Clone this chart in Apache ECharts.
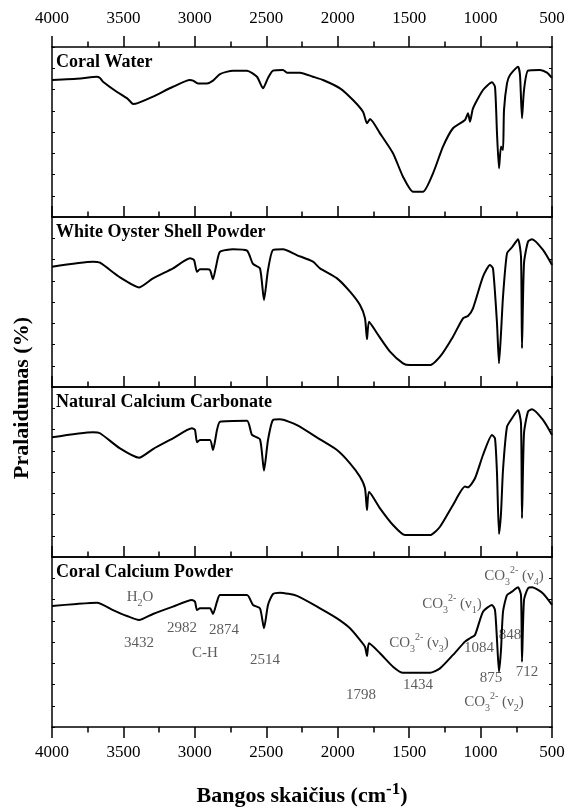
<!DOCTYPE html>
<html><head><meta charset="utf-8">
<script src="https://cdn.jsdelivr.net/npm/echarts@6/dist/echarts.min.js"></script>
<style>html,body{margin:0;padding:0;background:#fff}#c{width:568px;height:809px}</style>
</head><body><div id="c"></div>
<script>
// ---- data ----
const xMin = 500, xMax = 4000, xStep = 500;
const panelTitles = ['Coral Water', 'White Oyster Shell Powder', 'Natural Calcium Carbonate', 'Coral Calcium Powder'];

const coralWater = [[4000,80.6],[3800,81.5],[3687,82.5],[3664,81.8],[3643,79.6],[3547,73.7],[3470,69.5],[3432,66.5],[3400,67.0],[3293,70.8],[3153,76.6],[3034,80.6],[3013,80.2],[2978,78.6],[2915,78.6],[2873,80.2],[2824,84.1],[2733,86.1],[2635,86.1],[2565,82.5],[2523,75.7],[2488,81.8],[2453,86.1],[2383,86.5],[2355,84.9],[2264,84.9],[2173,82.5],[2103,80.6],[1984,75.7],[1893,68.8],[1823,61.9],[1795,55.1],[1774,57.6],[1704,49.2],[1613,37.5],[1543,23.7],[1473,14.9],[1403,14.9],[1333,25.7],[1263,41.4],[1193,52.2],[1109,57.1],[1088,61.0],[1074,56.1],[1053,63.9],[983,74.7],[920,79.2],[899,76.6],[885,49.2],[871,28.6],[857,41.4],[843,39.4],[836,62.9],[815,78.6],[794,83.5],[738,88.4],[724,83.5],[710,58.1],[696,74.7],[668,86.1],[584,86.5],[535,84.9],[500,81.8]];

const whiteOyster = [[4000,70.8],[3713,73.7],[3664,73.1],[3524,64.5],[3390,58.6],[3293,63.9],[3153,69.8],[3034,75.7],[3006,74.7],[2985,67.8],[2964,69.2],[2915,69.2],[2894,68.8],[2873,63.4],[2852,70.8],[2824,79.6],[2733,81.0],[2635,80.2],[2593,72.4],[2544,69.8],[2516,51.2],[2488,68.8],[2453,80.6],[2383,81.0],[2287,77.6],[2173,73.7],[2124,69.8],[2005,63.9],[1914,56.1],[1844,48.2],[1809,40.4],[1795,28.1],[1781,38.4],[1725,31.6],[1634,20.8],[1543,13.9],[1494,12.9],[1354,12.9],[1284,17.8],[1193,29.6],[1123,40.4],[1088,41.8],[1053,46.3],[983,64.9],[934,71.8],[913,69.8],[885,37.5],[871,13.9],[857,31.6],[843,53.1],[815,78.6],[780,82.2],[738,86.9],[717,76.6],[710,22.8],[696,72.8],[668,85.5],[640,86.9],[563,80.6],[500,71.8]];

const naturalCaCO3 = [[4000,70.4],[3713,73.4],[3664,72.8],[3524,63.9],[3390,58.4],[3293,63.5],[3153,69.8],[3020,75.7],[2999,74.7],[2985,67.5],[2964,68.8],[2894,68.8],[2873,62.9],[2845,74.7],[2824,79.6],[2635,80.2],[2600,71.8],[2544,69.2],[2516,50.8],[2488,68.8],[2453,80.6],[2404,81.0],[2285,77.6],[2124,69.2],[2005,62.9],[1914,55.1],[1844,47.2],[1809,40.4],[1795,27.6],[1781,38.4],[1704,28.6],[1613,18.8],[1529,12.9],[1354,12.9],[1284,17.8],[1193,30.6],[1109,41.4],[1088,41.0],[1039,46.3],[983,60.0],[920,71.8],[899,69.8],[885,49.2],[871,13.5],[857,25.7],[843,51.2],[815,76.6],[780,81.6],[738,86.5],[717,78.6],[710,22.8],[696,72.8],[668,85.5],[640,86.9],[563,80.6],[500,71.8]];

const coralCalcium = [[4000,71.2],[3825,72.4],[3685,73.1],[3573,68.8],[3475,65.3],[3391,62.9],[3293,66.5],[3153,70.8],[3020,74.7],[2999,73.7],[2985,68.8],[2964,69.8],[2894,69.8],[2873,66.5],[2845,73.7],[2824,77.6],[2635,77.6],[2593,71.8],[2544,69.8],[2516,58.1],[2488,71.8],[2453,78.2],[2404,79.0],[2285,77.1],[2124,69.8],[2005,63.9],[1914,58.1],[1844,51.2],[1809,47.2],[1795,41.8],[1781,49.2],[1704,43.4],[1613,35.5],[1543,31.9],[1354,31.9],[1284,34.5],[1193,42.4],[1109,50.2],[1074,52.2],[1039,54.1],[983,67.8],[920,71.8],[899,68.8],[885,51.2],[871,32.5],[857,45.3],[843,67.8],[815,77.6],[780,79.6],[738,82.2],[717,77.6],[710,38.4],[696,74.7],[668,81.6],[640,82.2],[563,78.6],[500,71.8]];

const annText = ['H_2O','3432','2982','2874','C-H','2514','1798','1434','CO_3^2- (ν_3)','1084','CO_3^2- (ν_1)','848','875','712','CO_3^2- (ν_4)','CO_3^2- (ν_2)'];
const annWn = [3384,3391,3090,2796,2929,2509,1837,1438,1431,1011,1200,794,927,675,766,906];
const annT = [76.5,49.4,58.2,57.1,43.5,39.4,18.8,24.7,49.4,46.5,72.4,54.1,28.8,32.4,88.8,14.7];

const yLabel = 'Pralaidumas (%)';
const xLabel = 'Bangos skaičius (cm{sup|-1})';

// ---- layout ----
const FONT = '"Liberation Serif", "Times New Roman", serif';
const L = 52, R = 16, TOP = 47, H = 170;
const panels = [coralWater, whiteOyster, naturalCaCO3, coralCalcium];
const tickFmt = v => String(v);

const grids = [], xAxes = [], yAxes = [], series = [], titles = [];
panels.forEach((d, i) => {
  grids.push({left: L, right: R, top: TOP + H * i, height: H, outerBoundsMode: 'none', containLabel: false});
  const last = i === panels.length - 1;
  const base = {type: 'value', gridIndex: i, min: xMin, max: xMax, interval: xStep, inverse: true,
    axisLine: {show: true, onZero: false, lineStyle: {color: '#000', width: 1.5}},
    splitLine: {show: false}, minorSplitLine: {show: false}};
  xAxes.push(Object.assign({}, base, {position: 'top',
    axisTick: {show: true, inside: false, length: 11, lineStyle: {color: '#000', width: 1.5}},
    minorTick: {show: true, splitNumber: 2, length: 5.5, lineStyle: {color: '#000', width: 1.5}},
    axisLabel: {show: i === 0, margin: 20, formatter: tickFmt, fontFamily: FONT, fontSize: 17, color: '#000'}}));
  xAxes.push(Object.assign({}, base, {position: 'bottom',
    axisTick: {show: last, inside: false, length: 11, lineStyle: {color: '#000', width: 1.5}},
    minorTick: {show: last, splitNumber: 2, length: 5.5, lineStyle: {color: '#000', width: 1.5}},
    axisLabel: {show: last, margin: 17, formatter: tickFmt, fontFamily: FONT, fontSize: 17, color: '#000'},
    name: last ? xLabel : '', nameLocation: 'middle', nameGap: 54, nameMoveOverlap: false,
    nameTextStyle: {fontFamily: FONT, fontSize: 22, fontWeight: 'bold', color: '#000', lineHeight: 30,
      rich: {sup: {fontFamily: FONT, fontSize: 17, fontWeight: 'bold', verticalAlign: 'top', lineHeight: 14, color: '#000'}}}}));
  ['left', 'right'].forEach(pos => yAxes.push({type: 'value', gridIndex: i, position: pos, min: 0, max: 100, interval: 12.5,
    axisLine: {show: true, lineStyle: {color: '#000', width: 1.5}},
    axisTick: {show: true, inside: true, length: 3, lineStyle: {color: '#000', width: 1}},
    axisLabel: {show: false}, splitLine: {show: false}}));
  series.push({type: 'line', xAxisIndex: 2 * i, yAxisIndex: 2 * i, data: d, symbol: 'none',
    smooth: 0.2, lineStyle: {color: '#000', width: 2}, z: 3});
  titles.push({text: panelTitles[i], left: L + 4, top: TOP + H * i + 6, padding: 0,
    textStyle: {fontFamily: FONT, fontSize: 18, fontWeight: 'bold', color: '#000'}});
});

const toRich = s => s.replace(/_(\w)/g, '{sub|$1}').replace(/\^(\S+)/g, '{sup|$1}');
series.push({type: 'scatter', xAxisIndex: 6, yAxisIndex: 6, symbolSize: 0, z: 2,
  data: annWn.map((w, k) => [w, annT[k]]),
  label: {show: true, position: 'inside', formatter: p => toRich(annText[p.dataIndex]),
    fontFamily: FONT, fontSize: 15, color: '#333', lineHeight: 22,
    rich: {sub: {fontFamily: FONT, fontSize: 10, lineHeight: 9, verticalAlign: 'bottom', color: '#333'},
           sup: {fontFamily: FONT, fontSize: 10, lineHeight: 9, verticalAlign: 'top', color: '#333'}}},
  emphasis: {disabled: true}});

const chart = echarts.init(document.getElementById('c'), null, {renderer: 'canvas'});
chart.setOption({
  animation: false, backgroundColor: '#fff',
  title: titles, grid: grids, xAxis: xAxes, yAxis: yAxes, series: series,
  graphic: [{type: 'text', x: 22, y: 398, rotation: Math.PI / 2,
    style: {text: yLabel, font: 'bold 22px ' + FONT, fill: '#000', align: 'center', verticalAlign: 'middle'}}]
});
</script></body></html>
